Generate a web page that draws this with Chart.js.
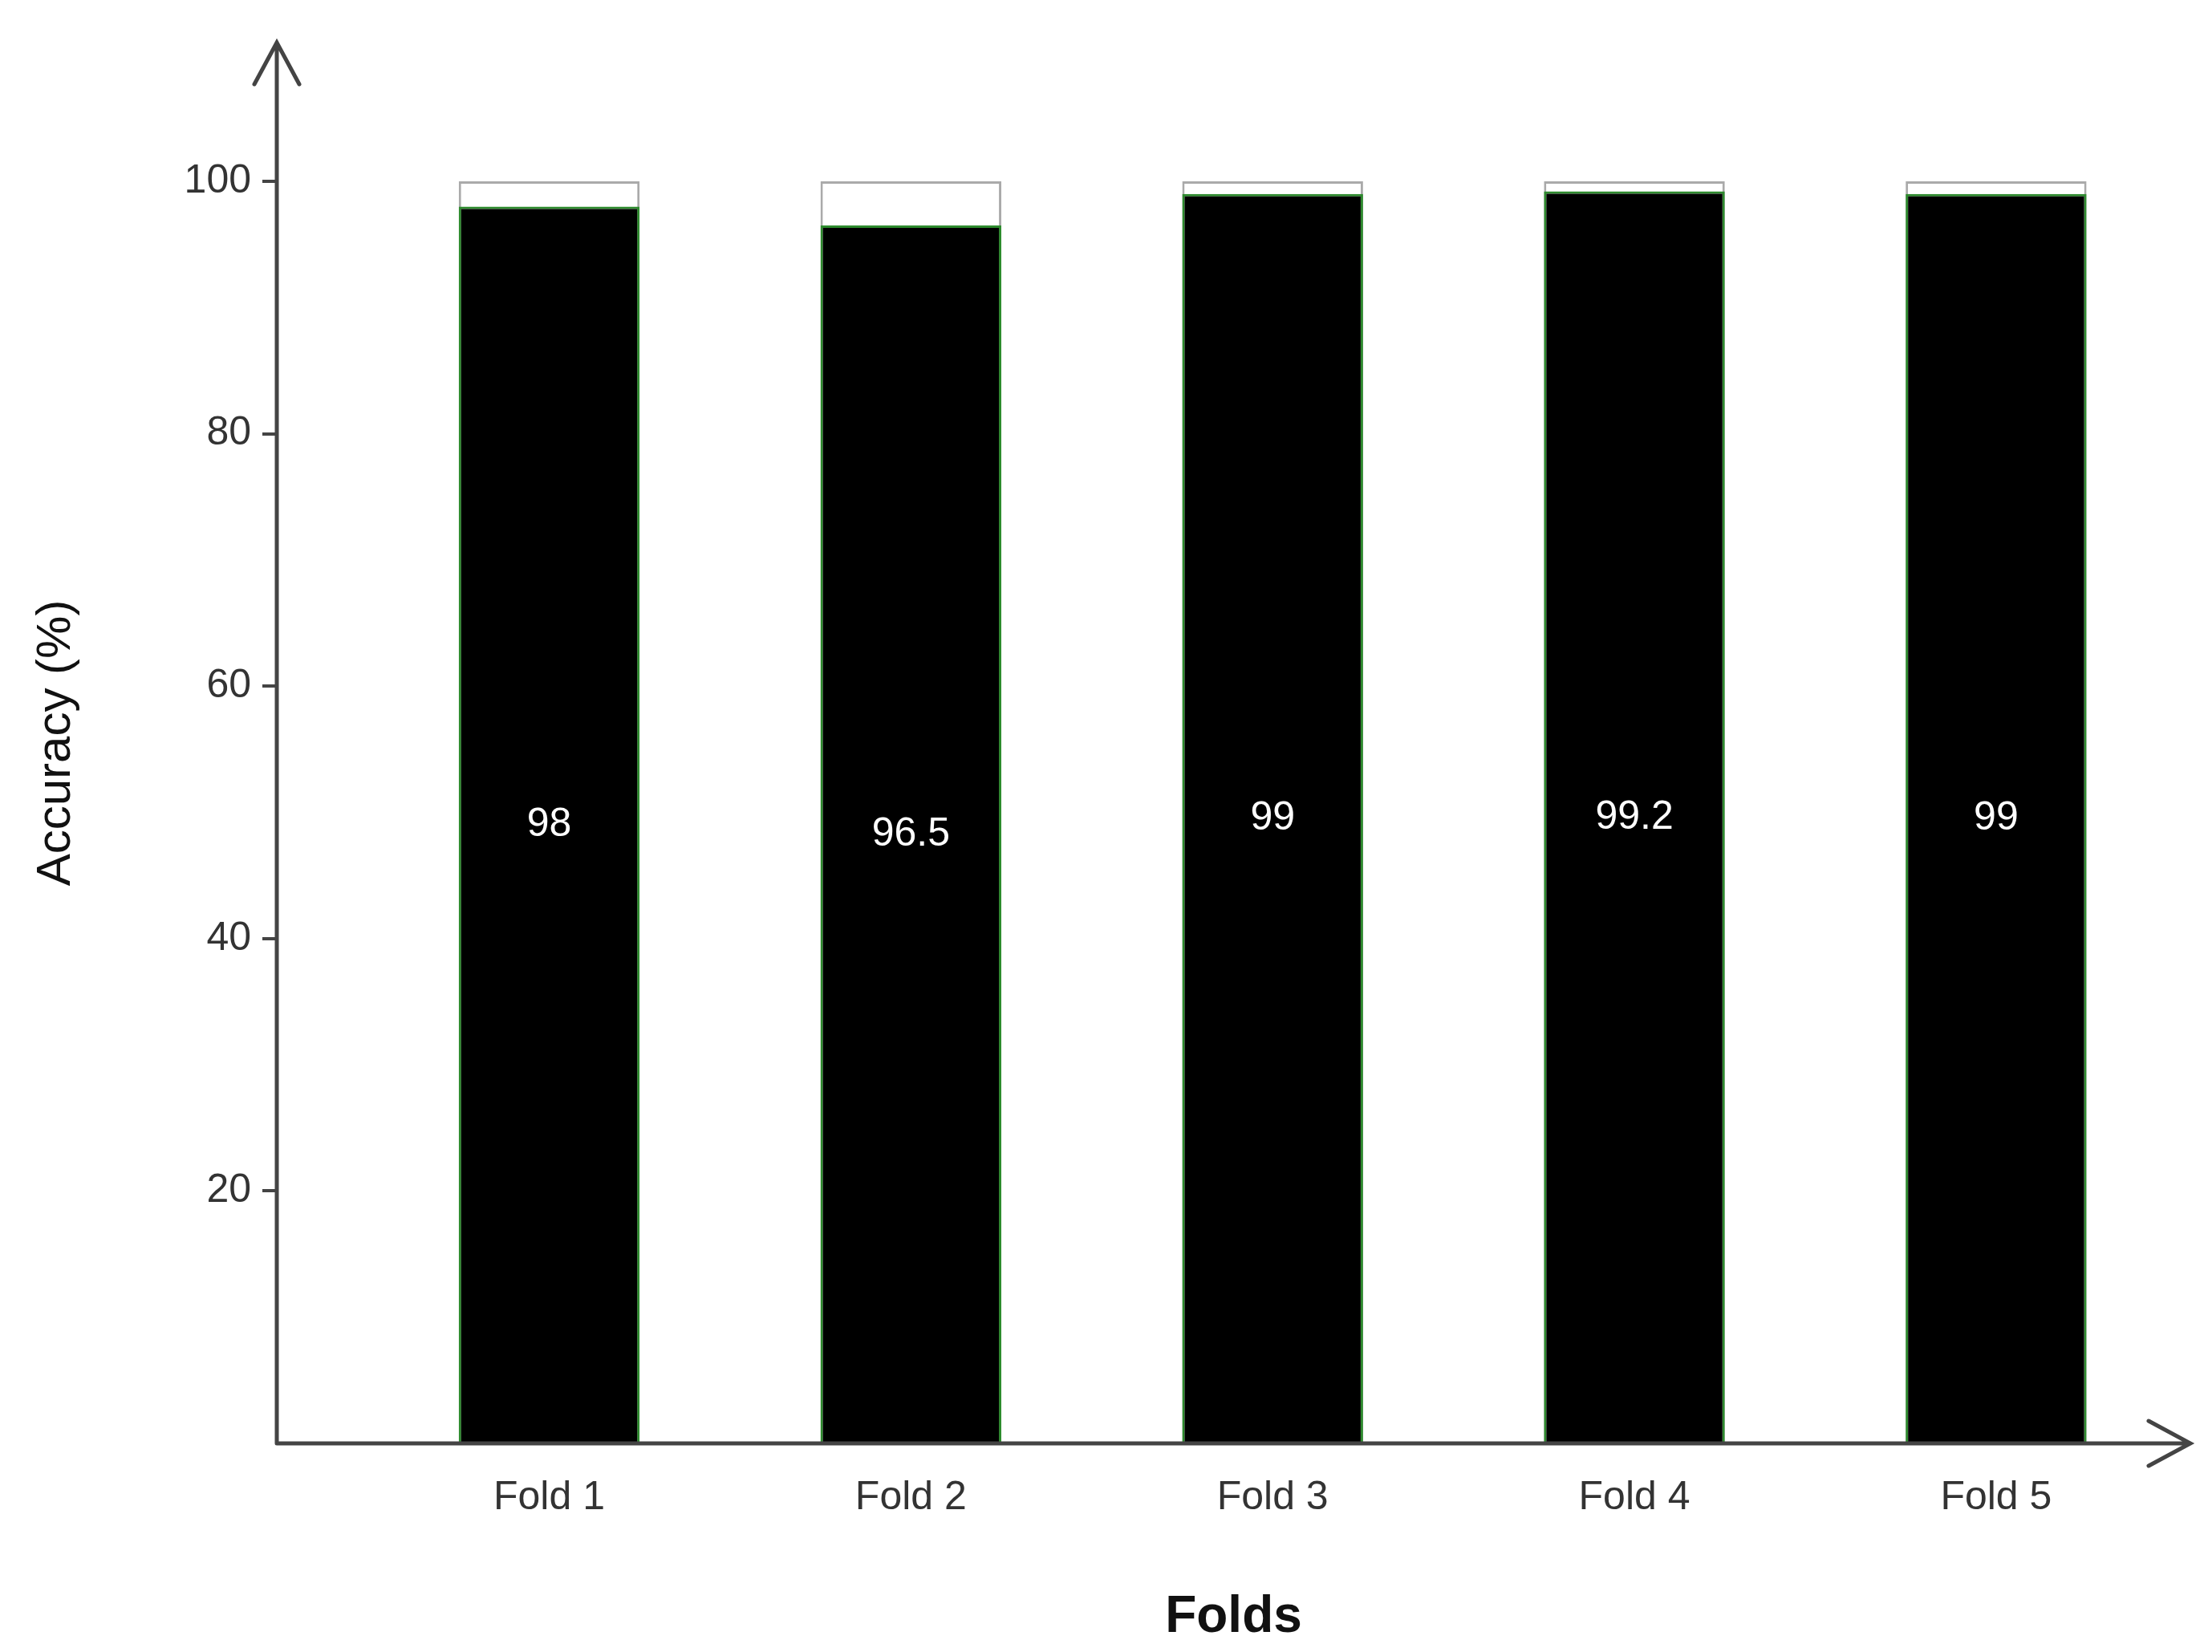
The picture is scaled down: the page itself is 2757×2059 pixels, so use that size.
<!DOCTYPE html>
<html lang="en">
<head>
    <meta charset="UTF-8">
    <title>Accuracy per Fold</title>
    <script src="https://cdn.jsdelivr.net/npm/chart.js"></script>
    <style>
        html, body { margin: 0; padding: 0; background: #fff; }
        #wrap { width: 2757px; height: 2059px; }
    </style>
</head>
<body>
    <div id="wrap"><canvas id="foldChart"></canvas></div>
    <script>
        const folds = ["Fold 1", "Fold 2", "Fold 3", "Fold 4", "Fold 5"];
        const positions = [1, 2, 3, 4, 5];
        const accuracy = [98, 96.5, 99, 99.2, 99];
        const maxValue = [100, 100, 100, 100, 100];
        const yTicks = [20, 40, 60, 80, 100];

        const axisColor = "#444";

        // axes arrows + value labels in the middle of each bar
        const extras = {
            id: 'extras',
            afterDatasetsDraw(chart) {
                const ctx = chart.ctx;
                const x = chart.scales.x, y = chart.scales.y;
                const x0 = x.left, y0 = y.bottom;
                ctx.save();
                ctx.strokeStyle = axisColor;
                ctx.lineWidth = 5;
                ctx.lineCap = 'round';
                ctx.beginPath();
                ctx.moveTo(x0, y0); ctx.lineTo(x0, y.top);
                ctx.moveTo(x0 - 28, y.top + 52); ctx.lineTo(x0, y.top); ctx.lineTo(x0 + 28, y.top + 52);
                ctx.moveTo(x0, y0); ctx.lineTo(x.right, y0);
                ctx.moveTo(x.right - 52, y0 - 28); ctx.lineTo(x.right, y0); ctx.lineTo(x.right - 52, y0 + 28);
                ctx.stroke();

                ctx.fillStyle = '#fff';
                ctx.font = '50px "Liberation Sans", Arial, sans-serif';
                ctx.textAlign = 'center';
                ctx.textBaseline = 'middle';
                const meta = chart.getDatasetMeta(1);
                meta.data.forEach((bar, i) => {
                    ctx.fillText(String(accuracy[i]), bar.x, y.getPixelForValue(accuracy[i] / 2));
                });
                ctx.restore();
            }
        };

        new Chart(document.getElementById('foldChart'), {
            type: 'bar',
            data: {
                datasets: [
                    {
                        data: positions.map((p, i) => ({ x: p, y: maxValue[i] })),
                        backgroundColor: '#fff',
                        borderColor: '#aaa',
                        borderWidth: 3,
                        barPercentage: 0.5,
                        categoryPercentage: 1,
                        grouped: false,
                        order: 2
                    },
                    {
                        data: positions.map((p, i) => ({ x: p, y: accuracy[i] })),
                        backgroundColor: '#000',
                        borderColor: '#2e8b2e',
                        borderWidth: 3,
                        barPercentage: 0.5,
                        categoryPercentage: 1,
                        grouped: false,
                        order: 1
                    }
                ]
            },
            options: {
                responsive: true,
                maintainAspectRatio: false,
                animation: false,
                layout: { padding: { top: 53, right: 27, left: 30, bottom: 0 } },
                plugins: { legend: { display: false }, tooltip: { enabled: false } },
                scales: {
                    x: {
                        type: 'linear',
                        offset: false,
                        min: 0.247,
                        max: 5.537,
                        afterBuildTicks: s => { s.ticks = positions.map(v => ({ value: v })); },
                        afterFit: s => { s.height = 260; },
                        grid: { display: false },
                        border: { display: false },
                        ticks: {
                            callback: v => folds[positions.indexOf(v)] || '',
                            color: '#333',
                            padding: 30,
                            font: { size: 50, family: '"Liberation Sans", Arial, sans-serif' }
                        },
                        title: {
                            display: true,
                            text: 'Folds',
                            color: '#111',
                            padding: { top: 20 },
                            font: { size: 64, weight: 'bold', family: '"Liberation Sans", Arial, sans-serif' }
                        }
                    },
                    y: {
                        min: 0,
                        max: 111,
                        afterBuildTicks: s => { s.ticks = yTicks.map(v => ({ value: v })); },
                        afterFit: s => { s.width = 315; },
                        grid: { drawOnChartArea: false, color: axisColor, lineWidth: 4, tickLength: 18 },
                        border: { display: false },
                        ticks: {
                            color: '#333',
                            padding: 14,
                            font: { size: 50, family: '"Liberation Sans", Arial, sans-serif' }
                        },
                        title: {
                            display: true,
                            text: 'Accuracy (%)',
                            color: '#111',
                            font: { size: 60, family: '"Liberation Sans", Arial, sans-serif' }
                        }
                    }
                }
            },
            plugins: [extras]
        });
    </script>
</body>
</html>
